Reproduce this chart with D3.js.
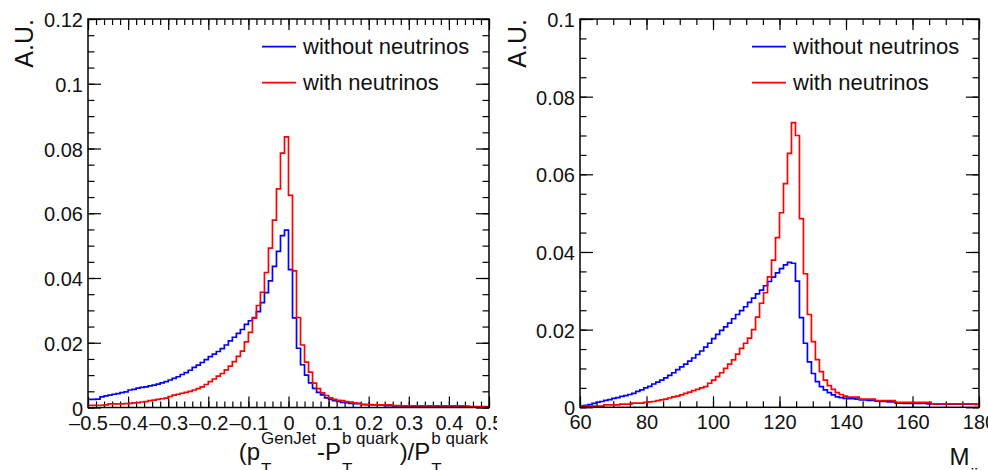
<!DOCTYPE html>
<html lang="en">
<head>
<meta charset="utf-8">
<title>GenJet response and Mjj</title>
<script src="https://d3js.org/d3.v7.min.js"></script>
<style>
  body { margin: 0; background: #fff; }
  svg { display: block; font-family: "Liberation Sans", Arial, Helvetica, sans-serif; }
  .tick text { font-size: 20px; fill: #111; }
  .tick line { stroke: #000; stroke-width: 1.2; }
  .hist { fill: none; stroke-width: 1.7; }
  .frame { fill: none; stroke: #000; stroke-width: 1.5; }
  .legend text { font-size: 22px; fill: #111; }
  .title { fill: #111; }
</style>
</head>
<body>
<div id="chart"></div>
<script>
// 100 bins per histogram
const ptRange = [-0.5, 0.5];
const mjjRange = [60, 180];

// (pT GenJet - pT b quark) / pT b quark
const ptWithout = [
  0.0025, 0.0025, 0.0026, 0.0033, 0.0036, 0.0038, 0.0041, 0.0043, 0.0046, 0.0048,
  0.0054, 0.0056, 0.0060, 0.0062, 0.0064, 0.0067, 0.0069, 0.0072, 0.0076, 0.0080,
  0.0085, 0.0090, 0.0095, 0.0102, 0.0108, 0.0115, 0.0124, 0.0131, 0.0139, 0.0148,
  0.0157, 0.0165, 0.0173, 0.0182, 0.0193, 0.0206, 0.0217, 0.0229, 0.0241, 0.0257,
  0.0268, 0.0278, 0.0296, 0.0324, 0.0355, 0.0391, 0.0436, 0.0482, 0.0531, 0.0548,
  0.0426, 0.0277, 0.0183, 0.0132, 0.0100, 0.0076, 0.0059, 0.0047, 0.0039, 0.0030,
  0.0025, 0.0021, 0.0019, 0.0016, 0.0015, 0.0013, 0.0012, 0.0012, 0.0009, 0.0009,
  0.0008, 0.0008, 0.0008, 0.0007, 0.0006, 0.0006, 0.0005, 0.0005, 0.0005, 0.0004,
  0.0004, 0.0004, 0.0004, 0.0004, 0.0003, 0.0003, 0.0003, 0.0003, 0.0003, 0.0003,
  0.0003, 0.0003, 0.0003, 0.0003, 0.0003, 0.0002, 0.0002, 0.0002, 0.0002, 0.0002
];
const ptWith = [
  0.0007, 0.0007, 0.0007, 0.0007, 0.0008, 0.0011, 0.0011, 0.0011, 0.0011, 0.0012,
  0.0013, 0.0014, 0.0015, 0.0017, 0.0018, 0.0021, 0.0023, 0.0025, 0.0027, 0.0029,
  0.0034, 0.0038, 0.0041, 0.0044, 0.0047, 0.0050, 0.0054, 0.0058, 0.0064, 0.0071,
  0.0080, 0.0088, 0.0097, 0.0105, 0.0116, 0.0128, 0.0142, 0.0158, 0.0174, 0.0203,
  0.0232, 0.0276, 0.0315, 0.0356, 0.0417, 0.0492, 0.0579, 0.0675, 0.0786, 0.0836,
  0.0655, 0.0422, 0.0278, 0.0193, 0.0140, 0.0109, 0.0075, 0.0058, 0.0045, 0.0037,
  0.0030, 0.0025, 0.0022, 0.0021, 0.0018, 0.0017, 0.0014, 0.0013, 0.0010, 0.0009,
  0.0009, 0.0008, 0.0008, 0.0008, 0.0008, 0.0008, 0.0006, 0.0006, 0.0005, 0.0005,
  0.0005, 0.0005, 0.0005, 0.0005, 0.0005, 0.0005, 0.0005, 0.0005, 0.0005, 0.0005,
  0.0005, 0.0005, 0.0005, 0.0005, 0.0004, 0.0003, 0.0003, 0.0003, 0.0003, 0.0003
];

// dijet mass
const mjjWithout = [
  0.0004, 0.0005, 0.0007, 0.0010, 0.0013, 0.0015, 0.0018, 0.0020, 0.0023, 0.0025,
  0.0028, 0.0030, 0.0033, 0.0036, 0.0041, 0.0045, 0.0050, 0.0054, 0.0060, 0.0065,
  0.0070, 0.0076, 0.0082, 0.0089, 0.0097, 0.0104, 0.0111, 0.0119, 0.0127, 0.0136,
  0.0145, 0.0155, 0.0165, 0.0177, 0.0188, 0.0198, 0.0207, 0.0217, 0.0228, 0.0239,
  0.0249, 0.0259, 0.0270, 0.0281, 0.0292, 0.0302, 0.0313, 0.0324, 0.0335, 0.0346,
  0.0357, 0.0367, 0.0373, 0.0371, 0.0325, 0.0231, 0.0165, 0.0117, 0.0087, 0.0066,
  0.0053, 0.0045, 0.0038, 0.0032, 0.0027, 0.0025, 0.0023, 0.0022, 0.0022, 0.0021,
  0.0019, 0.0019, 0.0018, 0.0018, 0.0016, 0.0015, 0.0015, 0.0014, 0.0014, 0.0011,
  0.0011, 0.0010, 0.0010, 0.0010, 0.0010, 0.0010, 0.0010, 0.0009, 0.0009, 0.0008,
  0.0008, 0.0008, 0.0008, 0.0008, 0.0008, 0.0008, 0.0008, 0.0008, 0.0008, 0.0008
];
const mjjWith = [
  0.0003, 0.0003, 0.0003, 0.0003, 0.0003, 0.0003, 0.0006, 0.0006, 0.0006, 0.0006,
  0.0008, 0.0008, 0.0008, 0.0011, 0.0011, 0.0011, 0.0013, 0.0014, 0.0015, 0.0017,
  0.0019, 0.0021, 0.0024, 0.0027, 0.0029, 0.0032, 0.0036, 0.0039, 0.0043, 0.0046,
  0.0050, 0.0053, 0.0062, 0.0070, 0.0079, 0.0089, 0.0100, 0.0111, 0.0122, 0.0137,
  0.0152, 0.0165, 0.0178, 0.0200, 0.0232, 0.0268, 0.0295, 0.0336, 0.0379, 0.0437,
  0.0501, 0.0576, 0.0654, 0.0733, 0.0700, 0.0486, 0.0344, 0.0239, 0.0169, 0.0123,
  0.0092, 0.0070, 0.0056, 0.0046, 0.0038, 0.0033, 0.0029, 0.0026, 0.0026, 0.0026,
  0.0021, 0.0021, 0.0021, 0.0021, 0.0017, 0.0017, 0.0017, 0.0017, 0.0017, 0.0013,
  0.0013, 0.0013, 0.0013, 0.0013, 0.0013, 0.0013, 0.0013, 0.0013, 0.0009, 0.0009,
  0.0009, 0.0009, 0.0009, 0.0009, 0.0009, 0.0009, 0.0009, 0.0009, 0.0009, 0.0007
];

const legendLabels = ["without neutrinos", "with neutrinos"];
const seriesColors = ["#0000ff", "#ff0000"];

const ptXTicks = [-0.5, -0.4, -0.3, -0.2, -0.1, 0, 0.1, 0.2, 0.3, 0.4, 0.5];
const ptYTicks = [0, 0.02, 0.04, 0.06, 0.08, 0.1, 0.12];
const mjjXTicks = [60, 80, 100, 120, 140, 160, 180];
const mjjYTicks = [0, 0.02, 0.04, 0.06, 0.08, 0.1];

const W = 988, H = 470;

const svg = d3.select("#chart").append("svg")
  .attr("width", W).attr("height", H);

const panels = [
  {
    id: "pt", x0: 88, x1: 489, y0: 19, y1: 407.5, clipRight: 497,
    xDomain: ptRange, yMax: 0.12,
    xTicks: ptXTicks, yTicks: ptYTicks, xMinorStep: 0.02, yMinorStep: 0.005,
    series: [ptWithout, ptWith],
    legendX: 262, legendText: 303,
    xFormat: d => d === 0 ? "0" : (d < 0 ? "\u2013" : "") + Math.abs(d).toFixed(1),
    yTitleX: 33,
    xTitle: [
      { base: "(p", sup: "GenJet", sub: "T" },
      { base: "-P", sup: "b quark", sub: "T" },
      { base: ")/P", sup: "b quark", sub: "T" }
    ],
    xTitleRight: 489, xTitleBase: 460
  },
  {
    id: "mjj", x0: 580, x1: 979, y0: 19, y1: 407.3, clipRight: 988,
    xDomain: mjjRange, yMax: 0.1,
    xTicks: mjjXTicks, yTicks: mjjYTicks, xMinorStep: 5, yMinorStep: 0.005,
    series: [mjjWithout, mjjWith],
    legendX: 752, legendText: 793,
    xFormat: d => String(d),
    yTitleX: 526,
    xTitle: [ { base: "M", sub: "jj" } ],
    xTitleRight: 979, xTitleBase: 465
  }
];

const yFmt = d => d === 0 ? "0" : String(+d.toFixed(2));

panels.forEach(p => {
  const x = d3.scaleLinear().domain(p.xDomain).range([p.x0, p.x1]);
  const y = d3.scaleLinear().domain([0, p.yMax]).range([p.y1, p.y0]);

  const clipOuter = "outer-" + p.id;
  svg.append("clipPath").attr("id", clipOuter)
    .append("rect").attr("x", p.x0 - 90).attr("y", 0)
    .attr("width", p.clipRight - p.x0 + 90).attr("height", H);

  const g = svg.append("g").attr("clip-path", `url(#${clipOuter})`);

  const xMinor = d3.range(p.xDomain[0], p.xDomain[1] + 1e-9, p.xMinorStep);
  const yMinor = d3.range(0, p.yMax + 1e-9, p.yMinorStep);

  // minor ticks, all four sides
  const minorAxes = [
    [d3.axisBottom(x).tickValues(xMinor), `translate(0,${p.y1})`],
    [d3.axisTop(x).tickValues(xMinor), `translate(0,${p.y0})`],
    [d3.axisLeft(y).tickValues(yMinor), `translate(${p.x0},0)`],
    [d3.axisRight(y).tickValues(yMinor), `translate(${p.x1},0)`]
  ];
  minorAxes.forEach(([ax, tr], k) => {
    const size = k < 2 ? -6 : -6.5;
    g.append("g").attr("transform", tr)
      .call(ax.tickSize(size).tickFormat(""))
      .call(s => s.select(".domain").remove());
  });

  // major ticks with labels
  g.append("g").attr("transform", `translate(0,${p.y1})`)
    .call(d3.axisBottom(x).tickValues(p.xTicks).tickSize(-11).tickPadding(8).tickFormat(p.xFormat))
    .call(s => s.select(".domain").remove())
    .call(s => s.selectAll("text").attr("font-size", 20).attr("font-family", null));
  g.append("g").attr("transform", `translate(0,${p.y0})`)
    .call(d3.axisTop(x).tickValues(p.xTicks).tickSize(-11).tickFormat(""))
    .call(s => s.select(".domain").remove());
  g.append("g").attr("transform", `translate(${p.x0},0)`)
    .call(d3.axisLeft(y).tickValues(p.yTicks).tickSize(-13).tickPadding(5).tickFormat(yFmt))
    .call(s => s.select(".domain").remove())
    .call(s => s.selectAll("text").attr("font-size", 20).attr("font-family", null).attr("dy", "0.38em"));
  g.append("g").attr("transform", `translate(${p.x1},0)`)
    .call(d3.axisRight(y).tickValues(p.yTicks).tickSize(-13).tickFormat(""))
    .call(s => s.select(".domain").remove());

  // histograms
  const clipPlot = "plot-" + p.id;
  svg.append("clipPath").attr("id", clipPlot)
    .append("rect").attr("x", p.x0).attr("y", p.y0)
    .attr("width", p.x1 - p.x0).attr("height", p.y1 - p.y0);

  const line = d3.line().x(d => x(d[0])).y(d => y(d[1])).curve(d3.curveStepAfter);
  p.series.forEach((vals, k) => {
    const w = (p.xDomain[1] - p.xDomain[0]) / vals.length;
    const pts = vals.map((v, i) => [p.xDomain[0] + i * w, v]);
    pts.push([p.xDomain[1], vals[vals.length - 1]]);
    g.append("path").datum(pts)
      .attr("class", "hist")
      .attr("clip-path", `url(#${clipPlot})`)
      .attr("stroke", seriesColors[k])
      .attr("d", line);
  });

  g.append("rect").attr("class", "frame")
    .attr("x", p.x0).attr("y", p.y0)
    .attr("width", p.x1 - p.x0).attr("height", p.y1 - p.y0);

  // legend
  const lg = g.append("g").attr("class", "legend");
  legendLabels.forEach((lab, k) => {
    const ly = 46.7 + k * 36;
    lg.append("line")
      .attr("x1", p.legendX).attr("x2", p.legendX + 34)
      .attr("y1", ly).attr("y2", ly)
      .attr("stroke", seriesColors[k]).attr("stroke-width", 1.7);
    lg.append("text").attr("x", p.legendText).attr("y", ly + 7.5).text(lab);
  });

  // y title
  g.append("text").attr("class", "title")
    .attr("transform", `translate(${p.yTitleX},${p.y0}) rotate(-90)`)
    .attr("text-anchor", "end").attr("font-size", 25)
    .text("A.U.");

  // x title with stacked super/subscripts
  const tg = g.append("g").attr("class", "title");
  let cx = 0;
  p.xTitle.forEach(part => {
    const b = tg.append("text").attr("x", cx).attr("y", p.xTitleBase)
      .attr("font-size", 24).text(part.base);
    cx += b.node().getComputedTextLength() + 1;
    let wmax = 0;
    if (part.sup) {
      const t = tg.append("text").attr("x", cx).attr("y", p.xTitleBase - 16)
        .attr("font-size", 17).text(part.sup);
      wmax = Math.max(wmax, t.node().getComputedTextLength());
    }
    if (part.sub) {
      const t = tg.append("text").attr("x", cx).attr("y", p.xTitleBase + 15)
        .attr("font-size", 17).text(part.sub);
      wmax = Math.max(wmax, t.node().getComputedTextLength());
    }
    cx += wmax + 1;
  });
  tg.attr("transform", `translate(${p.xTitleRight - cx},0)`);
});
</script>
</body>
</html>
